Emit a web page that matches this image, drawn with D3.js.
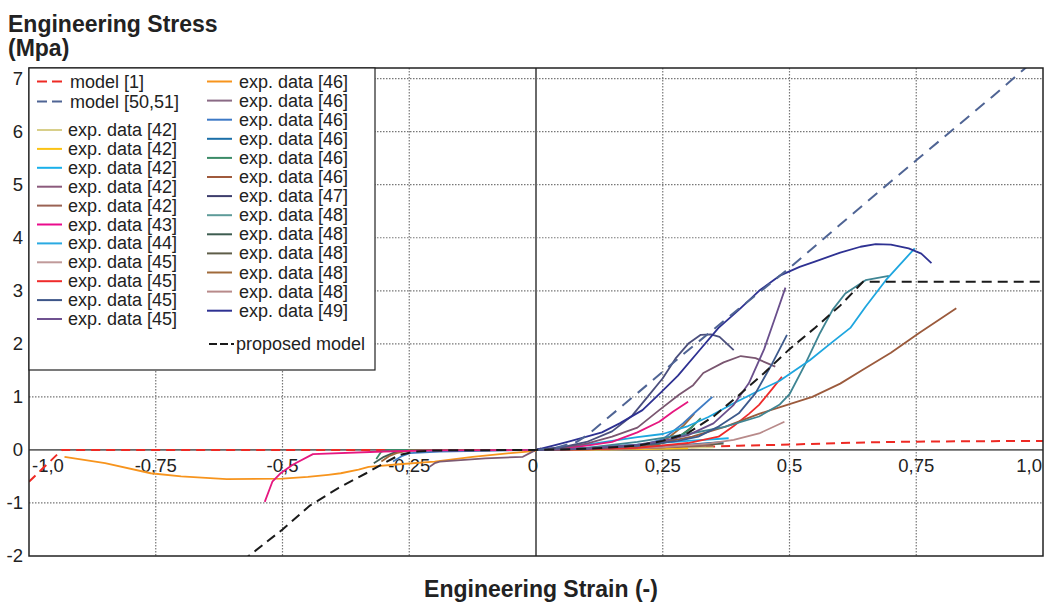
<!DOCTYPE html>
<html><head><meta charset="utf-8">
<script src="https://cdn.jsdelivr.net/npm/d3@7"></script>
<style>
html,body{margin:0;padding:0;background:#fff;}
svg{display:block;font-family:"Liberation Sans",Arial,Helvetica,sans-serif;}
</style></head>
<body><svg id="chart" width="1047" height="605"></svg>
<script>
// ---------- data ----------
const xTicks = [-1, -0.75, -0.5, -0.25, 0, 0.25, 0.5, 0.75, 1];
const xTickLabels = ["-1,0", "-0,75", "-0,5", "-0,25", "0", "0,25", "0,5", "0,75", "1,0"];
const yTicks = [-2, -1, 0, 1, 2, 3, 4, 5, 6, 7];
const yTickLabels = ["-2", "-1", "0", "1", "2", "3", "4", "5", "6", "7"];

const model1 = [[-1.0,-0.6],[-0.935,0],[0,0],[0.2,0.02],[0.3,0.05],[0.4,0.08],[0.5,0.1],[0.6,0.13],[0.7,0.15],[0.8,0.16],[0.9,0.165],[1.0,0.17]];
const model5051 = [[0,0],[0.04,0.04],[0.08,0.15],[0.1,0.27],[0.2,1.07],[0.3,1.88],[0.4,2.66],[0.5,3.43],[0.6,4.25],[0.7,5.06],[0.75,5.46],[0.8,5.86],[0.9,6.66],[0.98,7.32]];
const proposed = [[-0.58,-2.1],[-0.5,-1.5],[-0.446,-1.05],[-0.39,-0.72],[-0.335,-0.44],[-0.3,-0.25],[-0.27,-0.1],[-0.24,-0.03],[-0.2,-0.01],[0,0],[0.1,0.02],[0.2,0.08],[0.25,0.17],[0.3,0.32],[0.35,0.63],[0.4,1.03],[0.45,1.45],[0.5,1.9],[0.55,2.3],[0.6,2.72],[0.645,3.17],[1.0,3.17]];

const exp49 = [[0,0],[0.03,0.07],[0.066,0.16],[0.1,0.25],[0.13,0.33],[0.165,0.5],[0.21,0.75],[0.245,1.07],[0.28,1.4],[0.32,1.85],[0.36,2.3],[0.4,2.64],[0.44,3.0],[0.48,3.28],[0.52,3.45],[0.55,3.55],[0.6,3.72],[0.64,3.83],[0.67,3.88],[0.7,3.87],[0.735,3.8],[0.76,3.7],[0.78,3.52]];
const exp47 = [[0,0],[0.05,0.05],[0.1,0.15],[0.15,0.35],[0.19,0.65],[0.22,1.0],[0.25,1.35],[0.275,1.72],[0.3,2.0],[0.325,2.17],[0.345,2.18],[0.362,2.13],[0.39,1.88]];
const exp45purple = [[0,0],[0.1,0.03],[0.2,0.1],[0.25,0.17],[0.3,0.28],[0.35,0.5],[0.39,0.85],[0.42,1.26],[0.45,1.9],[0.47,2.45],[0.492,3.06]];
const exp45blue = [[0,0],[0.1,0.02],[0.2,0.08],[0.28,0.17],[0.32,0.25],[0.36,0.44],[0.4,0.69],[0.433,1.07],[0.466,1.63],[0.495,2.17]];
const exp42mauve = [[0,0],[0.05,0.04],[0.1,0.12],[0.15,0.25],[0.2,0.42],[0.243,0.75],[0.282,1.04],[0.31,1.22],[0.33,1.45],[0.37,1.65],[0.404,1.77],[0.433,1.73],[0.472,1.57]];
const exp43 = [[-0.535,-0.98],[-0.52,-0.6],[-0.505,-0.45],[-0.48,-0.28],[-0.44,-0.08],[-0.3,-0.03],[-0.2,-0.01],[0,0],[0.05,0.03],[0.1,0.08],[0.15,0.15],[0.2,0.33],[0.243,0.53],[0.27,0.72],[0.3,0.91]];
const exp44 = [[0,0],[0.05,0.04],[0.1,0.1],[0.15,0.17],[0.2,0.24],[0.25,0.3],[0.3,0.45],[0.34,0.62],[0.39,0.88],[0.44,1.12],[0.48,1.3],[0.54,1.69],[0.58,2.0],[0.62,2.3],[0.65,2.7],[0.69,3.2],[0.747,3.8]];
const exp48teal = [[0,0],[0.1,0.04],[0.2,0.15],[0.3,0.3],[0.37,0.43],[0.44,0.63],[0.48,0.85],[0.5,1.05],[0.53,1.6],[0.56,2.2],[0.585,2.64],[0.61,2.95],[0.65,3.2],[0.696,3.28]];
const exp46brown = [[0,0],[0.1,0.03],[0.2,0.08],[0.243,0.13],[0.308,0.25],[0.374,0.44],[0.44,0.68],[0.48,0.8],[0.545,1.0],[0.6,1.25],[0.643,1.5],[0.7,1.83],[0.755,2.2],[0.829,2.67]];
const exp45red = [[0,0],[0.1,0.01],[0.2,0.04],[0.3,0.13],[0.36,0.25],[0.39,0.45],[0.42,0.68],[0.44,0.85],[0.466,1.15],[0.485,1.38]];
const exp48rose = [[0,0],[0.15,0.02],[0.25,0.05],[0.34,0.12],[0.39,0.19],[0.44,0.31],[0.49,0.53]];
const exp46blue = [[-0.282,-0.22],[-0.265,-0.12],[-0.249,-0.06],[-0.19,-0.03],[0,0],[0.1,0.02],[0.2,0.07],[0.25,0.2],[0.27,0.35],[0.29,0.5],[0.315,0.72],[0.348,1.0]];
const exp48brown = [[-0.305,-0.22],[-0.29,-0.12],[-0.275,-0.06],[-0.25,-0.01],[0,0],[0.15,0.03],[0.22,0.08],[0.26,0.22],[0.29,0.45],[0.312,0.68]];
const exp46green = [[-0.315,-0.17],[-0.31,-0.1],[-0.305,-0.03],[-0.29,0],[0,0],[0.15,0.03],[0.24,0.1],[0.276,0.22],[0.302,0.38],[0.325,0.6]];
const exp48dark = [[-0.32,-0.25],[-0.3,-0.13],[-0.28,-0.05],[-0.25,0],[0,0],[0.2,0.05],[0.26,0.15],[0.29,0.3],[0.31,0.45]];
const exp42cyan = [[0,0],[0.1,0.04],[0.2,0.1],[0.3,0.17],[0.38,0.22]];
const exp42khaki = [[0,0],[0.15,0.01],[0.25,0.03],[0.35,0.05]];
const exp42gold = [[0,0],[0.15,0.01],[0.3,0.03]];
const exp48olive = [[0,0],[0.15,0.02],[0.25,0.05],[0.37,0.12]];
const exp42brown = [[0,0],[0.2,0.03],[0.35,0.08]];
const exp46dblue = [[0,0],[0.2,0.05],[0.3,0.1],[0.37,0.15]];
const exp46orange = [[-0.93,-0.13],[-0.85,-0.25],[-0.76,-0.44],[-0.7,-0.5],[-0.61,-0.55],[-0.5,-0.54],[-0.45,-0.51],[-0.41,-0.47],[-0.385,-0.44],[-0.35,-0.37],[-0.33,-0.32],[-0.27,-0.27],[-0.2,-0.22],[-0.125,-0.13],[-0.05,-0.06],[0,-0.02]];
const exp46mauve = [[-0.21,-0.32],[-0.2,-0.25],[-0.19,-0.22],[-0.1,-0.16],[-0.026,-0.13],[0,0],[0.01,0.03]];

const legendLeft = [
  {label:"model [1]", color:"#ee2a24", dash:"10,5"},
  {label:"model [50,51]", color:"#4f6494", dash:"10,5"},
  null,
  {label:"exp. data [42]", color:"#d8cf8a"},
  {label:"exp. data [42]", color:"#fbc315"},
  {label:"exp. data [42]", color:"#1ab0ea"},
  {label:"exp. data [42]", color:"#8b5a7c"},
  {label:"exp. data [42]", color:"#9a6253"},
  {label:"exp. data [43]", color:"#ea0b8c"},
  {label:"exp. data [44]", color:"#2aaae2"},
  {label:"exp. data [45]", color:"#c09a9a"},
  {label:"exp. data [45]", color:"#ef2b2b"},
  {label:"exp. data [45]", color:"#3d5588"},
  {label:"exp. data [45]", color:"#6f5190"}
];
const legendRight = [
  {label:"exp. data [46]", color:"#f7941d"},
  {label:"exp. data [46]", color:"#8a6a85"},
  {label:"exp. data [46]", color:"#3d79c6"},
  {label:"exp. data [46]", color:"#1b6fa8"},
  {label:"exp. data [46]", color:"#3b8b67"},
  {label:"exp. data [46]", color:"#a05a3c"},
  {label:"exp. data [47]", color:"#3d3d6c"},
  {label:"exp. data [48]", color:"#5e9b99"},
  {label:"exp. data [48]", color:"#3d5c50"},
  {label:"exp. data [48]", color:"#5e5d48"},
  {label:"exp. data [48]", color:"#a06a3a"},
  {label:"exp. data [48]", color:"#b88a8a"},
  {label:"exp. data [49]", color:"#2e3192"}
];

const curves = [
  {d:exp42khaki, c:"#d8cf8a"}, {d:exp42gold, c:"#fbc315"},
  {d:exp48olive, c:"#5e5d48"}, {d:exp42brown, c:"#9a6253"},
  {d:exp46dblue, c:"#1b6fa8"}, {d:exp42cyan, c:"#1ab0ea"},
  {d:exp46orange, c:"#f7941d"}, {d:exp46mauve, c:"#7d5a72"},
  {d:exp48rose, c:"#b88a8a"}, {d:exp48dark, c:"#3d5c50"},
  {d:exp46green, c:"#3b8b67"}, {d:exp48brown, c:"#a0683a"},
  {d:exp46blue, c:"#3f7cc4"}, {d:exp45red, c:"#ee2b2b"},
  {d:exp46brown, c:"#9b5a3c"}, {d:exp48teal, c:"#3f8593"},
  {d:exp44, c:"#1ea6df"}, {d:exp43, c:"#e6177f"},
  {d:exp42mauve, c:"#7a5670"}, {d:exp45blue, c:"#3d5a8c"},
  {d:exp45purple, c:"#6a4f8c"}, {d:exp47, c:"#4b4f7d"},
  {d:exp49, c:"#2e3192"}
];

// ---------- chart ----------
const svg = d3.select("#chart");
const L = 29, R = 1043, T = 68, B = 556;
const x = d3.scaleLinear().domain([-1, 1]).range([L, R]);
const y = d3.scaleLinear().domain([-2, 7.2]).range([B, T]);

svg.append("defs").append("clipPath").attr("id","clip")
  .append("rect").attr("x",L).attr("y",T).attr("width",R-L).attr("height",B-T);

// grid
const grid = svg.append("g");
yTicks.filter(v => v !== 0 && v !== -2).forEach(v => {
  grid.append("line").attr("x1",L).attr("x2",R).attr("y1",y(v)).attr("y2",y(v))
    .attr("stroke","#777").attr("stroke-width",1.2).attr("stroke-dasharray","1.5,1.5");
});
xTicks.filter(v => v !== 0 && v !== -1 && v !== 1).forEach(v => {
  grid.append("line").attr("x1",x(v)).attr("x2",x(v)).attr("y1",T).attr("y2",B)
    .attr("stroke","#777").attr("stroke-width",1.2).attr("stroke-dasharray","1.5,1.5");
});
// zero axes
svg.append("line").attr("x1",L).attr("x2",R).attr("y1",y(0)).attr("y2",y(0))
  .attr("stroke","#666").attr("stroke-width",1.6);
svg.append("line").attr("x1",x(0)).attr("x2",x(0)).attr("y1",T).attr("y2",B)
  .attr("stroke","#6a6a6a").attr("stroke-width",2);

// tick labels
const xl = svg.append("g").attr("font-size",18.5).attr("fill","#222");
xTicks.forEach((v,i) => {
  let anchor = "middle", dx = 0;
  if (v === -1) { anchor = "start"; dx = 3; }
  if (v === 1) { anchor = "end"; dx = -1; }
  if (v === 0) { dx = -3; }
  xl.append("text").attr("x", x(v)+dx).attr("y", y(0)+22).attr("text-anchor",anchor).text(xTickLabels[i]);
});
const yl = svg.append("g").attr("font-size",18.5).attr("fill","#222");
yTicks.forEach((v,i) => {
  yl.append("text").attr("x",23).attr("y",y(v)+6).attr("text-anchor","end").text(yTickLabels[i]);
});

// curves
const line = d3.line().x(d => x(d[0])).y(d => y(d[1]));
const cg = svg.append("g").attr("clip-path","url(#clip)").attr("fill","none");
cg.append("path").attr("d", line(model1)).attr("stroke","#ee2a24").attr("stroke-width",2).attr("stroke-dasharray","9,6");
curves.forEach(s => {
  cg.append("path").attr("d", line(s.d)).attr("stroke", s.c).attr("stroke-width",1.8).attr("stroke-linejoin","round");
});
cg.append("path").attr("d", line(model5051)).attr("stroke","#4f6494").attr("stroke-width",2).attr("stroke-dasharray","12,8");
cg.append("path").attr("d", line(proposed)).attr("stroke","#1a1a1a").attr("stroke-width",2).attr("stroke-dasharray","10,6");

// frame
svg.append("rect").attr("x",L).attr("y",T).attr("width",R-L).attr("height",B-T)
  .attr("fill","none").attr("stroke","#222").attr("stroke-width",1.5);

// legend
const lg = svg.append("g");
lg.append("rect").attr("x",L).attr("y",T).attr("width",375-L).attr("height",370-T)
  .attr("fill","#fff").attr("stroke","#222").attr("stroke-width",1.2);
const leftY = [81.5, 101.5, null];
legendLeft.forEach((e,i) => {
  if (!e) return;
  const cy = i < 2 ? leftY[i] : 130 + (i-3)*18.9;
  lg.append("line").attr("x1",37).attr("x2",62).attr("y1",cy).attr("y2",cy)
    .attr("stroke",e.color).attr("stroke-width",2).attr("stroke-dasharray",e.dash || null);
  lg.append("text").attr("x", i < 2 ? 70 : 68).attr("y",cy+6).attr("font-size",18).attr("fill","#222").text(e.label);
});
legendRight.forEach((e,i) => {
  const cy = 81.5 + i*19.1;
  lg.append("line").attr("x1",207).attr("x2",232).attr("y1",cy).attr("y2",cy)
    .attr("stroke",e.color).attr("stroke-width",2);
  lg.append("text").attr("x",239).attr("y",cy+6).attr("font-size",18).attr("fill","#222").text(e.label);
});
lg.append("line").attr("x1",209).attr("x2",234).attr("y1",344).attr("y2",344)
  .attr("stroke","#1a1a1a").attr("stroke-width",2).attr("stroke-dasharray","8,3");
lg.append("text").attr("x",236).attr("y",350).attr("font-size",18).attr("fill","#222").text("proposed model");

// axis titles
svg.append("text").attr("x",8).attr("y",32).attr("font-size",23).attr("font-weight","bold").attr("fill","#222").text("Engineering Stress");
svg.append("text").attr("x",8).attr("y",56).attr("font-size",23).attr("font-weight","bold").attr("fill","#222").text("(Mpa)");
svg.append("text").attr("x",541).attr("y",597).attr("font-size",23).attr("font-weight","bold").attr("fill","#222").attr("text-anchor","middle").text("Engineering Strain (-)");
</script></body></html>
